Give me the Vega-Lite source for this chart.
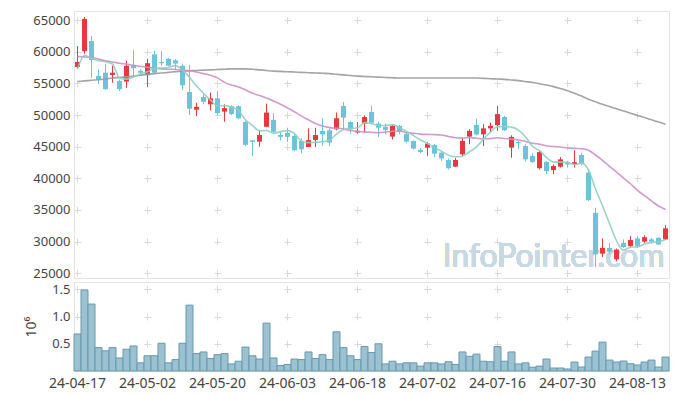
{
  "$schema": "https://vega.github.io/schema/vega-lite/v6.json",
  "padding": {"left": 5, "top": 10, "right": 10, "bottom": 5},
  "background": "white",
  "spacing": 0,
  "config": {
    "font": "Noto Sans",
    "view": {"stroke": "#e3e3e3"},
    "axis": {"labelFont": "Noto Sans", "labelFontSize": 13, "labelColor": "#444", "ticks": false, "domain": false, "gridColor": "#d9d9d9", "gridWidth": 1, "labelOverlap": false}
  },
  "datasets": {
    "k": [
      {"d":"2024-04-17","o":57600,"h":60900,"l":57400,"c":58400,"v":0.68,"m5":57250,"m20":59250,"mL":55300},
      {"d":"2024-04-18","o":60100,"h":65500,"l":59700,"c":65200,"v":1.49,"m5":59450,"m20":59200,"mL":55400},
      {"d":"2024-04-19","o":61700,"h":62500,"l":55900,"c":58700,"v":1.23,"m5":58950,"m20":59100,"mL":55500},
      {"d":"2024-04-22","o":56200,"h":57250,"l":54900,"c":55700,"v":0.43,"m5":58600,"m20":58850,"mL":55600},
      {"d":"2024-04-23","o":56700,"h":58100,"l":54000,"c":54100,"v":0.37,"m5":58420,"m20":58600,"mL":55700},
      {"d":"2024-04-24","o":56350,"h":57800,"l":55100,"c":56700,"v":0.43,"m5":58080,"m20":58400,"mL":55850},
      {"d":"2024-04-25","o":55400,"h":55600,"l":53800,"c":54100,"v":0.24,"m5":55860,"m20":58200,"mL":55950},
      {"d":"2024-04-26","o":55300,"h":58600,"l":54300,"c":57800,"v":0.40,"m5":55680,"m20":58050,"mL":56050},
      {"d":"2024-04-29","o":57900,"h":60250,"l":56200,"c":57400,"v":0.46,"m5":56020,"m20":57850,"mL":56150},
      {"d":"2024-04-30","o":57000,"h":57250,"l":56450,"c":56700,"v":0.15,"m5":56540,"m20":57700,"mL":56300},
      {"d":"2024-05-02","o":56300,"h":58900,"l":54450,"c":58200,"v":0.28,"m5":56840,"m20":57550,"mL":56450},
      {"d":"2024-05-03","o":59600,"h":60150,"l":56550,"c":56700,"v":0.28,"m5":57360,"m20":57400,"mL":56550},
      {"d":"2024-05-07","o":58400,"h":60150,"l":57800,"c":58200,"v":0.51,"m5":57440,"m20":57300,"mL":56650},
      {"d":"2024-05-08","o":58900,"h":59000,"l":57700,"c":57800,"v":0.15,"m5":57520,"m20":57250,"mL":56750},
      {"d":"2024-05-09","o":58650,"h":58850,"l":57100,"c":58150,"v":0.21,"m5":57810,"m20":57200,"mL":56850},
      {"d":"2024-05-10","o":57800,"h":58150,"l":53950,"c":54700,"v":0.51,"m5":57110,"m20":57100,"mL":56950},
      {"d":"2024-05-13","o":53650,"h":57950,"l":50000,"c":51000,"v":1.21,"m5":55970,"m20":57000,"mL":57000},
      {"d":"2024-05-14","o":50850,"h":51950,"l":49850,"c":51300,"v":0.32,"m5":54590,"m20":56800,"mL":57050},
      {"d":"2024-05-16","o":52850,"h":53400,"l":51700,"c":52100,"v":0.35,"m5":53450,"m20":56550,"mL":57100},
      {"d":"2024-05-17","o":51700,"h":53550,"l":50750,"c":52650,"v":0.23,"m5":52350,"m20":56280,"mL":57150},
      {"d":"2024-05-20","o":52650,"h":53850,"l":50000,"c":50300,"v":0.30,"m5":51470,"m20":55875,"mL":57200},
      {"d":"2024-05-21","o":50550,"h":51700,"l":48950,"c":51100,"v":0.32,"m5":51490,"m20":55170,"mL":57250},
      {"d":"2024-05-22","o":51400,"h":51550,"l":50000,"c":50150,"v":0.13,"m5":51260,"m20":54743,"mL":57300},
      {"d":"2024-05-23","o":51400,"h":51550,"l":49350,"c":49500,"v":0.18,"m5":50740,"m20":54433,"mL":57300},
      {"d":"2024-05-24","o":48900,"h":49050,"l":45100,"c":45300,"v":0.44,"m5":49270,"m20":53993,"mL":57300},
      {"d":"2024-05-27","o":46000,"h":46050,"l":43550,"c":45750,"v":0.28,"m5":48360,"m20":53445,"mL":57250},
      {"d":"2024-05-28","o":45800,"h":47600,"l":45000,"c":46850,"v":0.22,"m5":47510,"m20":53083,"mL":57150},
      {"d":"2024-05-29","o":48150,"h":51800,"l":48100,"c":50400,"v":0.88,"m5":47560,"m20":52713,"mL":57050},
      {"d":"2024-05-30","o":49250,"h":50300,"l":47200,"c":47350,"v":0.24,"m5":47130,"m20":52210,"mL":56950},
      {"d":"2024-05-31","o":46850,"h":47350,"l":46000,"c":46550,"v":0.10,"m5":47380,"m20":51703,"mL":56900},
      {"d":"2024-06-03","o":47200,"h":48000,"l":45750,"c":46550,"v":0.12,"m5":47540,"m20":51120,"mL":56850},
      {"d":"2024-06-04","o":46700,"h":47050,"l":44300,"c":44450,"v":0.22,"m5":47060,"m20":50508,"mL":56800},
      {"d":"2024-06-05","o":45900,"h":46350,"l":43950,"c":44600,"v":0.21,"m5":45900,"m20":49828,"mL":56750},
      {"d":"2024-06-07","o":44950,"h":47900,"l":44950,"c":46050,"v":0.35,"m5":45640,"m20":49240,"mL":56700},
      {"d":"2024-06-10","o":46050,"h":48000,"l":44950,"c":46850,"v":0.23,"m5":45700,"m20":48675,"mL":56650},
      {"d":"2024-06-11","o":47500,"h":49500,"l":45100,"c":46950,"v":0.30,"m5":45780,"m20":48288,"mL":56600},
      {"d":"2024-06-12","o":47600,"h":47850,"l":45100,"c":45650,"v":0.21,"m5":46020,"m20":48020,"mL":56550},
      {"d":"2024-06-13","o":47750,"h":50400,"l":47600,"c":49500,"v":0.72,"m5":47000,"m20":47930,"mL":56450},
      {"d":"2024-06-14","o":51450,"h":52100,"l":47750,"c":49600,"v":0.43,"m5":47710,"m20":47805,"mL":56350},
      {"d":"2024-06-17","o":48900,"h":49050,"l":47050,"c":47750,"v":0.28,"m5":47890,"m20":47560,"mL":56250},
      {"d":"2024-06-18","o":47250,"h":48900,"l":47050,"c":47500,"v":0.21,"m5":48000,"m20":47420,"mL":56150},
      {"d":"2024-06-19","o":48650,"h":49950,"l":47200,"c":49700,"v":0.45,"m5":48810,"m20":47350,"mL":56100},
      {"d":"2024-06-20","o":50500,"h":51450,"l":48550,"c":48800,"v":0.34,"m5":48670,"m20":47283,"mL":56050},
      {"d":"2024-06-21","o":48650,"h":48950,"l":46550,"c":48000,"v":0.50,"m5":48350,"m20":47208,"mL":56000},
      {"d":"2024-06-24","o":48100,"h":48650,"l":46950,"c":47650,"v":0.13,"m5":48330,"m20":47325,"mL":55950},
      {"d":"2024-06-25","o":46600,"h":48450,"l":46150,"c":48300,"v":0.18,"m5":48490,"m20":47453,"mL":55900},
      {"d":"2024-06-26","o":48300,"h":48450,"l":46950,"c":47350,"v":0.13,"m5":48020,"m20":47478,"mL":55850},
      {"d":"2024-06-27","o":47050,"h":47400,"l":45650,"c":45800,"v":0.15,"m5":47420,"m20":47248,"mL":55850},
      {"d":"2024-06-28","o":45900,"h":46000,"l":44550,"c":44700,"v":0.15,"m5":46760,"m20":47115,"mL":55850},
      {"d":"2024-07-01","o":44500,"h":44800,"l":44000,"c":44150,"v":0.09,"m5":46060,"m20":46995,"mL":55850},
      {"d":"2024-07-02","o":44850,"h":45750,"l":43550,"c":45500,"v":0.15,"m5":45500,"m20":46943,"mL":55850},
      {"d":"2024-07-03","o":45250,"h":45450,"l":43350,"c":43900,"v":0.15,"m5":44810,"m20":46915,"mL":55850},
      {"d":"2024-07-04","o":44050,"h":44150,"l":42750,"c":43150,"v":0.13,"m5":44280,"m20":46843,"mL":55850},
      {"d":"2024-07-05","o":42900,"h":43150,"l":41400,"c":41600,"v":0.17,"m5":43660,"m20":46620,"mL":55850},
      {"d":"2024-07-08","o":41850,"h":43200,"l":41800,"c":42900,"v":0.12,"m5":43410,"m20":46423,"mL":55850},
      {"d":"2024-07-09","o":43800,"h":46450,"l":43550,"c":45900,"v":0.35,"m5":43490,"m20":46370,"mL":55850},
      {"d":"2024-07-10","o":46600,"h":47750,"l":45400,"c":47500,"v":0.27,"m5":44210,"m20":46463,"mL":55850},
      {"d":"2024-07-11","o":48450,"h":49450,"l":46800,"c":46950,"v":0.31,"m5":44970,"m20":46335,"mL":55850},
      {"d":"2024-07-12","o":46950,"h":48550,"l":45100,"c":47900,"v":0.18,"m5":46230,"m20":46250,"mL":55800},
      {"d":"2024-07-15","o":47900,"h":48800,"l":47200,"c":48300,"v":0.17,"m5":47310,"m20":46278,"mL":55750},
      {"d":"2024-07-16","o":48400,"h":51450,"l":47500,"c":50150,"v":0.45,"m5":48160,"m20":46410,"mL":55700},
      {"d":"2024-07-17","o":49700,"h":49850,"l":47500,"c":47600,"v":0.18,"m5":48180,"m20":46305,"mL":55650},
      {"d":"2024-07-18","o":44850,"h":46800,"l":43250,"c":46550,"v":0.35,"m5":48100,"m20":46193,"mL":55550},
      {"d":"2024-07-19","o":45750,"h":45900,"l":44600,"c":45550,"v":0.13,"m5":47630,"m20":46070,"mL":55450},
      {"d":"2024-07-22","o":45100,"h":45400,"l":42650,"c":43000,"v":0.15,"m5":46570,"m20":45838,"mL":55300},
      {"d":"2024-07-23","o":43550,"h":43950,"l":42450,"c":42600,"v":0.07,"m5":45060,"m20":45553,"mL":55150},
      {"d":"2024-07-24","o":41600,"h":44350,"l":41400,"c":44150,"v":0.09,"m5":44370,"m20":45393,"mL":54950},
      {"d":"2024-07-25","o":42600,"h":42750,"l":40650,"c":41150,"v":0.22,"m5":43290,"m20":45160,"mL":54750},
      {"d":"2024-07-26","o":41300,"h":42200,"l":40650,"c":41950,"v":0.055,"m5":42570,"m20":45023,"mL":54500},
      {"d":"2024-07-29","o":41850,"h":43350,"l":41700,"c":43000,"v":0.055,"m5":42570,"m20":44965,"mL":54200},
      {"d":"2024-07-30","o":42600,"h":42750,"l":41700,"c":42200,"v":0.037,"m5":42490,"m20":44800,"mL":53850},
      {"d":"2024-07-31","o":42200,"h":44450,"l":41700,"c":42550,"v":0.165,"m5":42170,"m20":44733,"mL":53450},
      {"d":"2024-08-01","o":43700,"h":44050,"l":42050,"c":42300,"v":0.073,"m5":42400,"m20":44690,"mL":53000},
      {"d":"2024-08-02","o":40900,"h":41450,"l":36400,"c":36550,"v":0.256,"m5":41320,"m20":44438,"mL":52500},
      {"d":"2024-08-05","o":34550,"h":35350,"l":25950,"c":28000,"v":0.366,"m5":38320,"m20":43693,"mL":52100},
      {"d":"2024-08-06","o":28100,"h":30500,"l":27550,"c":29000,"v":0.531,"m5":35680,"m20":42848,"mL":51700},
      {"d":"2024-08-07","o":29000,"h":29800,"l":28000,"c":28400,"v":0.201,"m5":32850,"m20":41893,"mL":51350},
      {"d":"2024-08-08","o":27200,"h":28900,"l":26900,"c":28750,"v":0.165,"m5":30140,"m20":40983,"mL":51000},
      {"d":"2024-08-09","o":29800,"h":30350,"l":29000,"c":29150,"v":0.183,"m5":28660,"m20":40045,"mL":50650},
      {"d":"2024-08-12","o":29300,"h":30900,"l":29000,"c":30250,"v":0.134,"m5":29110,"m20":39143,"mL":50300},
      {"d":"2024-08-13","o":30500,"h":30900,"l":29000,"c":29300,"v":0.11,"m5":29170,"m20":38100,"mL":49950},
      {"d":"2024-08-14","o":30000,"h":31000,"l":29800,"c":30700,"v":0.165,"m5":29630,"m20":37255,"mL":49600},
      {"d":"2024-08-16","o":30350,"h":30600,"l":29700,"c":30000,"v":0.201,"m5":29880,"m20":36428,"mL":49250},
      {"d":"2024-08-19","o":30600,"h":30650,"l":29500,"c":29550,"v":0.073,"m5":29960,"m20":35628,"mL":48900},
      {"d":"2024-08-20","o":30350,"h":32600,"l":30250,"c":32100,"v":0.256,"m5":30330,"m20":35083,"mL":48550}
    ]
  },
  "vconcat": [
    {
      "width": 595,
      "height": 267,
      "data": {"name": "k"},
      "encoding": {
        "x": {
          "field": "d", "type": "ordinal",
          "scale": {"paddingInner": 0, "paddingOuter": 0},
          "axis": {
            "values": ["2024-04-17","2024-05-02","2024-05-20","2024-06-03","2024-06-18","2024-07-02","2024-07-16","2024-07-30","2024-08-13"],
            "labels": false, "ticks": false, "domain": false, "title": null,
            "grid": true, "gridDash": [7, 24.6], "gridDashOffset": 25.9,
            "minExtent": 0, "maxExtent": 0
          }
        },
        "y": {
          "field": "l", "type": "quantitative",
          "scale": {"domain": [24250, 66450], "nice": false, "zero": false},
          "axis": {
            "values": [25000,30000,35000,40000,45000,50000,55000,60000,65000],
            "format": "d", "title": null, "labelPadding": 4, "labelOverlap": false, "labelBound": false,
            "grid": true, "gridDash": [7, 63], "gridDashOffset": 0,
            "minExtent": 68, "maxExtent": 68
          }
        }
      },
      "layer": [
        {
          "mark": {"type": "text", "font": "Lato", "fontSize": 32, "align": "center", "baseline": "alphabetic", "color": "#c8d9e4"},
          "encoding": {
            "x": {"datum": "2024-07-26"},
            "y": {"datum": 26000},
            "text": {"value": "InfoPointer.com"}
          }
        },
        {
          "mark": {"type": "rule", "strokeWidth": 1},
          "encoding": {
            "y2": {"field": "h"},
            "color": {"condition": {"test": "datum.c > datum.o", "value": "#e8383d"}, "value": "#6cc3da"}
          }
        },
        {
          "mark": {"type": "bar", "size": 5},
          "encoding": {
            "y": {"field": "o", "type": "quantitative"},
            "y2": {"field": "c"},
            "color": {"condition": {"test": "datum.c > datum.o", "value": "#e8383d"}, "value": "#6cc3da"}
          }
        },
        {
          "mark": {"type": "line", "interpolate": "monotone", "strokeWidth": 1.6, "color": "#9a9a9a", "opacity": 0.9},
          "encoding": {"y": {"field": "mL", "type": "quantitative"}}
        },
        {
          "mark": {"type": "line", "interpolate": "monotone", "strokeWidth": 1.6, "color": "#cc8fc6", "opacity": 0.9},
          "encoding": {"y": {"field": "m20", "type": "quantitative"}}
        },
        {
          "mark": {"type": "line", "interpolate": "monotone", "strokeWidth": 1.6, "color": "#8ed0c1", "opacity": 0.9},
          "encoding": {"y": {"field": "m5", "type": "quantitative"}}
        }
      ]
    },
    {
      "width": 595,
      "height": 89,
      "data": {"name": "k"},
      "mark": {"type": "bar", "fill": "#9cc1d1", "stroke": "#6799b1", "strokeWidth": 1},
      "encoding": {
        "x": {
          "field": "d", "type": "ordinal",
          "scale": {"paddingInner": 0, "paddingOuter": 0},
          "axis": {
            "values": ["2024-04-17","2024-05-02","2024-05-20","2024-06-03","2024-06-18","2024-07-02","2024-07-16","2024-07-30","2024-08-13"],
            "labelExpr": "substring(datum.value, 2)",
            "labelAngle": 0, "labelFontSize": 14, "labelPadding": 5,
            "title": null,
            "grid": true, "gridDash": [7, 20.3], "gridDashOffset": 23.7
          }
        },
        "y": {
          "field": "v", "type": "quantitative",
          "scale": {"domain": [0, 1.635], "nice": false},
          "axis": {
            "values": [0.5, 1, 1.5], "format": ".1f", "labelOverlap": false,
            "title": "10⁶", "titleFontWeight": "normal", "titleFontSize": 14, "titleColor": "#444", "titlePadding": 6,
            "labelPadding": 4,
            "grid": true, "gridDash": [7, 63], "gridDashOffset": 0,
            "minExtent": 30, "maxExtent": 30
          }
        }
      }
    }
  ]
}
